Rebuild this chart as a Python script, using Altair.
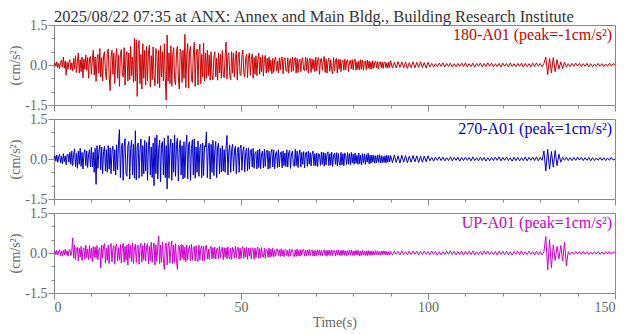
import altair as alt
import pandas as pd

# ---------------- data ----------------
title_text = "2025/08/22 07:35 at ANX: Annex and Main Bldg., Building Research Institute"
channels = ["180-A01", "270-A01", "UP-A01"]
peaks = ["-1", "1", "1"]
colors = ["#cc0000", "#0000cc", "#cc00cc"]
x_ticks = [0, 10, 20, 30, 40, 50, 60, 70, 80, 90, 100, 110, 120, 130, 140, 150]
y_ticks = [-1.5, -1.0, -0.5, 0.0, 0.5, 1.0, 1.5]
T_SPLIT = 90.0   # s: strong part sampled every 0.25 s, quiet part every 0.5 s
DT_A = 0.25
DT_B = 0.5

# acceleration in hundredths of cm/s^2
# part A: t = 0 .. 89.75 s (0.25 s steps); part B: t = 90 .. 150 s (0.5 s steps)
acc_180_a = [
    0, 8, -5, 12, -10, 6, -14, 10, 18, -8,
    30, -12, 15, -38, 10, -15, 12, 20, -18, 8,
    -22, 25, -15, 35, -28, 12, 45, -30, 20, -25,
    30, -48, 22, -15, 38, -20, 28, -50, 25, 32,
    -35, 20, 55, -38, 30, -62, 25, 40, -30, 62,
    -45, 28, -60, 35, 50, -25, -55, 45, 60, -40,
    -96, 30, 55, -35, 45, -70, 25, 62, -50, 38,
    -80, 40, 58, -30, -45, 65, -75, 35, 50, -60,
    45, -55, 70, -40, 30, -65, 100, -60, 95, -118,
    60, 92, -70, 40, -90, 80, -50, 55, -75, 70,
    -60, 45, 74, -82, 35, -55, 68, -40, -78, 62,
    40, -70, 55, -85, 72, -45, 50, -60, 80, -50,
    -132, 112, -60, 45, -70, 72, -80, 40, 65, -55,
    -75, 50, 70, -45, -90, 60, 48, -65, 55, -50,
    115, -85, 40, 80, -87, 50, 70, -55, -65, 45,
    85, -80, 35, 60, -75, 50, 78, -70, 40, -45,
    82, -60, 45, -50, 55, -40, 38, -57, 50, -35,
    -55, 30, 50, -45, 25, -57, 45, -30, 40, -50,
    55, -35, -48, 30, 86, -52, 35, 45, -40, -55,
    50, -30, 45, -45, 25, 52, -57, 30, 48, -35,
    -40, 35, 56, -30, -45, 25, 40, -48, 30, 45,
    -38, 20, 42, -50, 28, -35, 35, -40, 22, 45,
    -35, 30, -25, 38, -42, 20, 36, -30, 25, -28,
    30, -22, 18, -33, 25, -28, 20, 30, -22, 15,
    -30, 26, -18, 25, 30, -33, 20, 28, -20, -25,
    27, -30, 15, 24, -26, 30, -22, 18, 28, -30,
    25, -28, 15, 22, -25, 20, 28, -18, -22, 30,
    -20, 25, -30, 18, 25, -28, 22, -15, 20, -25,
    30, -22, 18, 28, -35, 20, 25, -20, 15, 32,
    -28, 22, -30, 15, 26, -24, 20, -18, -33, 28,
    -22, 15, 25, -30, 20, -15, 22, -25, 12, 18,
    -20, 22, -18, 15, 20, -25, 12, 18, -15, 20,
    -18, 15, 22, -20, 12, -16, 16, -18, 20, -14,
    18, -20, 10, 15, -17, 19, -12, 14, -16, 12,
    -14, 16, -12, 10, 14, -11, 13, -15, 9, 12,
    -10, 11, -13, 9, 12, -10, 8, -12, 11, -9,
]
acc_180_b = [
    16, -12, 10, -11, 13, -9, 12, -10, 11, -13,
    9, -10, 12, -11, 10, -9, 12, -10, 9, -11,
    10, -7, 6, -8, 5, -6, 7, -5, 8, -7,
    6, -6, 7, -8, 5, -7, 6, -5, 7, -6,
    8, -7, 5, -6, 7, -8, 6, -5, 7, -7,
    6, -6, 8, -5, 7, -7, 5, -6, 6, -8,
    7, -5, 6, -7, 8, -6, 5, -7, 6, -5,
    7, -8, 6, -6, 5, -7, 7, -6, 8, -5,
    6, -7, 6, 30, -36, 25, -30, 28, -25, 20,
    -15, 12, -14, 10, -8, 5, -6, 6, -5, 7,
    -4, 6, -6, 5, -5, 6, -7, 5, -6, 4,
    -5, 6, -5, 5, -6, 4, -5, 6, -4, 5,
    0,
]

acc_270_a = [
    0, 12, -8, 15, -12, 8, 18, -15, 10, -18,
    20, -10, 12, -22, 15, 18, -12, 25, -20, 30,
    -25, 18, 38, -30, 22, -35, 30, -20, 40, -28,
    25, -37, 20, 35, -25, 30, -32, 18, 35, -30,
    45, -30, 25, -50, 40, -95, 50, -35, 30, 52,
    -40, 45, -55, 28, 48, -45, 35, -50, 50, -38,
    42, -55, 30, 48, -45, 35, -60, 52, -40, 60,
    110, -70, 40, 60, -80, 45, 76, -55, -65, 50,
    65, -75, 40, 70, -60, 55, -72, 106, -78, 45,
    60, -72, 35, 75, -65, 50, -55, 70, -45, 62,
    -80, 50, 85, -60, 45, -70, 60, -100, 80, -55,
    90, -75, 40, 70, -85, 55, 65, -60, 78, -70,
    50, -112, 88, -72, 45, 75, -80, 60, -50, 90,
    -65, 55, 78, -82, 40, 70, -60, 50, -75, 65,
    -70, 45, 90, -75, 55, 65, -80, 40, 72, -60,
    75, -72, 45, -50, 68, -65, 40, 55, -70, 60,
    -62, 50, 45, 102, -70, 40, 60, -75, 55, -50,
    70, -62, 35, 66, -70, 45, 60, -55, 40, -48,
    50, -45, 35, -50, 40, 88, -60, 30, 52, -50,
    35, 55, -45, 30, 48, -55, 25, 45, -50, 40,
    52, -42, 30, 46, -48, 25, 40, -45, 42, -38,
    30, 36, -30, 40, -35, 22, 28, -37, 34, -32,
    38, -36, 20, 30, -34, 37, -28, 25, 33, -38,
    30, -35, 22, 36, -30, 34, -37, 20, 28, -32,
    35, -30, 18, 27, -33, 30, -25, 22, -28, 35,
    -30, 25, 32, -35, 20, 30, -22, -28, 36, -25,
    30, -32, 18, 34, -30, 25, -20, 28, -33, 22,
    26, -28, 30, -20, 24, -26, 18, 30, -25, 20,
    -25, 22, -28, 20, 15, -24, 26, -20, 25, -27,
    22, -22, 18, 27, -25, 20, -23, 26, -28, 15,
    22, -20, 24, -26, 21, -15, -24, 25, -22, 20,
    -25, 23, 12, -21, 24, -18, 20, -22, 25, -15,
    18, -20, 22, -16, 14, -20, 23, -18, 15, -22,
    20, -14, 18, -20, 16, -12, 22, -18, 14, -16,
    15, -12, 14, -16, 12, -14, 15, -12, 16, -15,
    13, -14, 10, -13, 12, -15, 14, -12, 13, -11,
]
acc_270_b = [
    13, -14, 15, -13, 12, -15, 14, -12, 13, -14,
    11, -12, 13, -11, 12, -13, 10, -12, 11, -10,
    12, -7, 6, -8, 7, -5, 8, -6, 7, -7,
    5, -6, 8, -7, 6, -5, 7, -8, 6, -6,
    7, -5, 6, -7, 8, -6, 5, -7, 7, -6,
    6, -8, 5, -7, 6, -6, 7, -5, 8, -7,
    6, -5, 7, -6, 5, -8, 7, -6, 6, -7,
    5, -6, 8, -7, 6, -5, 7, -6, 8, -7,
    6, -5, 30, -45, 36, -38, 28, -30, 32, -25,
    18, -12, 6, -5, 7, -6, 5, -6, 6, -5,
    7, -4, 6, -6, 5, -5, 6, -7, 5, -6,
    4, -5, 6, -5, 5, -6, 4, -5, 6, -4,
    0,
]

acc_up_a = [
    0, 8, -6, 10, -8, 5, 12, -10, 7, -12,
    10, -8, 14, -6, 9, -12, 8, 13, -10, 6,
    57, -20, 30, -25, 15, 22, -30, 18, -15, 25,
    -28, 12, 20, -22, 30, -18, 15, -25, 28, -20,
    18, -32, 25, -15, 22, -20, 28, -25, 12, 20,
    -57, 30, -20, 25, 35, -38, 18, -28, 30, -40,
    22, 36, -33, 15, 28, -42, 25, 34, -30, 20,
    -25, 32, -38, 18, 36, -35, 25, -28, 30, -45,
    35, -20, 28, -32, 38, -40, 15, 33, -36, 25,
    30, -42, 20, 36, -34, 28, -25, 38, -30, 22,
    35, -40, 25, -28, 40, -35, 18, 38, -45, 30,
    -32, 25, 63, -40, 30, -35, 40, -25, -62, 30,
    38, -45, 25, 40, -38, 20, 45, -40, 30, -35,
    35, -28, -62, 30, 25, -28, 32, -20, 30, -27,
    22, -33, 30, -25, 15, 28, -30, 33, -27, 20,
    25, -30, 28, -22, -32, 30, -26, 18, 27, -29,
    25, -28, 20, 30, -22, 15, -24, 18, 25, -22,
    20, -20, 22, -23, 15, 19, -21, 24, -18, 12,
    22, -25, 20, -15, 19, -22, 23, -14, -22, 18,
    -24, 21, 12, -20, 25, -18, 16, 22, -23, 19,
    -21, 14, 24, -20, 18, -15, 22, -24, 19, -12,
    18, -22, 20, 15, -24, 19, -18, 12, 22, -20,
    17, -19, 21, -12, -16, 18, -20, 15, 12, -17,
    19, -16, 14, -13, 18, -14, 10, -12, 13, 15,
    -10, 12, -13, 16, -11, 12, -14, 10, 13, -11,
    10, -13, 15, -12, 11, 13, -10, -14, 12, -13,
    15, -11, 10, -12, 13, -9, 11, 14, -12, 10,
    -11, 12, -9, 13, -10, 8, 12, -11, 10, -12,
    9, -10, 12, -8, 11, -9, 10, -11, 8, 12,
    -10, 9, -12, 11, -8, 10, -9, 12, -10, 8,
    9, -11, 10, -8, 12, -9, 8, -10, 11, -7,
    10, -9, 8, -11, 9, -7, 10, -8, 12, -9,
    8, -10, 9, -7, 10, -8, 9, -11, 7, -9,
    10, -8, 7, -9, 8, -10, 9, -7, 8, -9,
    7, -8, 6, -7, 9, -6, 8, -7, 6, -8,
    7, -6, 8, -5, 7, -7, 6, -8, 5, -7,
]
acc_up_b = [
    6, -8, 7, -5, 6, -7, 8, -6, 5, -7,
    7, -6, 8, -5, 7, -7, 6, -6, 8, -5,
    6, -7, 7, -5, 6, -8, 5, -7, 6, -6,
    7, -5, 8, -6, 6, -7, 5, -6, 7, -8,
    6, -5, 7, -6, 8, -7, 5, -6, 6, -7,
    8, -5, 7, -6, 5, -7, 6, -8, 7, -5,
    6, -6, 7, -7, 5, -8, 6, -5, 7, -6,
    8, -7, 5, -6, 7, -5, 6, -8, 7, -6,
    5, -7, 6, 62, -63, 50, -55, 30, -28, 25,
    -22, 28, -30, 40, -48, 5, -6, 4, -5, 6,
    -4, 5, -5, 6, -4, 5, -6, 4, -5, 5,
    -4, 6, -5, 4, -5, 5, -4, 6, -5, 4,
    0,
]

# ---------------- chart ----------------
FONT = "Liberation Serif"
W, H = 561, 80
GRAY = "#888888"
TXT = "#666666"


def panel(part_a, part_b, name, peak, color, bottom, first):
    times = [i * DT_A for i in range(len(part_a))] + [T_SPLIT + i * DT_B for i in range(len(part_b))]
    vals = [v / 100.0 for v in part_a + part_b]
    df = pd.DataFrame({"t": times, "a": vals})
    x_axis = alt.Axis(
        values=x_ticks, labels=bottom, domain=False, grid=False,
        tickColor=GRAY, tickWidth=1,
        tickSize={"condition": {"test": "datum.value % 50 == 0", "value": 6}, "value": 3},
        labelFont=FONT, labelFontSize=14, labelColor=TXT, labelPadding=1,
        labelExpr="datum.value % 50 == 0 ? format(datum.value, 'd') : ''",
        titleFont=FONT, titleFontSize=14, titleColor=TXT, titleFontWeight="normal",
        titlePadding=1,
    )
    y_axis = alt.Axis(
        values=y_ticks, domain=False, grid=False,
        tickColor=GRAY, tickWidth=1,
        tickSize={"condition": {"test": "abs(datum.value) == 1.5 || datum.value == 0", "value": 6}, "value": 3},
        labelFont=FONT, labelFontSize=14, labelColor=TXT, labelPadding=1,
        labelExpr="datum.value == 1.5 ? '1.5' : datum.value == 0 ? '0.0' : datum.value == -1.5 ? '-1.5' : ''",
        titleFont=FONT, titleFontSize=14, titleColor=TXT, titleFontWeight="normal",
        titlePadding=2,
    )
    line = alt.Chart(df).mark_line(color=color, strokeWidth=1, clip=True).encode(
        x=alt.X("t:Q", scale=alt.Scale(domain=[0, 150], nice=False, zero=False),
                axis=x_axis, title="Time(s)" if bottom else None),
        y=alt.Y("a:Q", scale=alt.Scale(domain=[-1.5, 1.5], nice=False),
                axis=y_axis, title="(cm/s²)"),
    )
    lab = alt.Chart(pd.DataFrame({"label": [f"{name} (peak={peak}cm/s²)"]})).mark_text(
        align="right", baseline="alphabetic", font=FONT, fontSize=16, color=color
    ).encode(x=alt.value(W - 3), y=alt.value(15), text="label:N")
    layers = [line, lab]
    if first:
        ttl = alt.Chart(pd.DataFrame({"label": [title_text]})).mark_text(
            align="left", baseline="alphabetic", font=FONT, fontSize=16.5, color="#333333"
        ).encode(x=alt.value(0), y=alt.value(-3), text="label:N")
        layers.append(ttl)
    return alt.layer(*layers).properties(width=W, height=H)


p1 = panel(acc_180_a, acc_180_b, channels[0], peaks[0], colors[0], False, True)
p2 = panel(acc_270_a, acc_270_b, channels[1], peaks[1], colors[1], False, False)
p3 = panel(acc_up_a, acc_up_b, channels[2], peaks[2], colors[2], True, False)

chart = alt.vconcat(p1, p2, p3, spacing=14, bounds="flush").properties(
    padding={"left": 0, "top": 0, "right": 0, "bottom": 0}
).configure_view(stroke=GRAY, strokeWidth=1)

chart.save("out.html", embed_options={"renderer": "svg", "actions": False})
